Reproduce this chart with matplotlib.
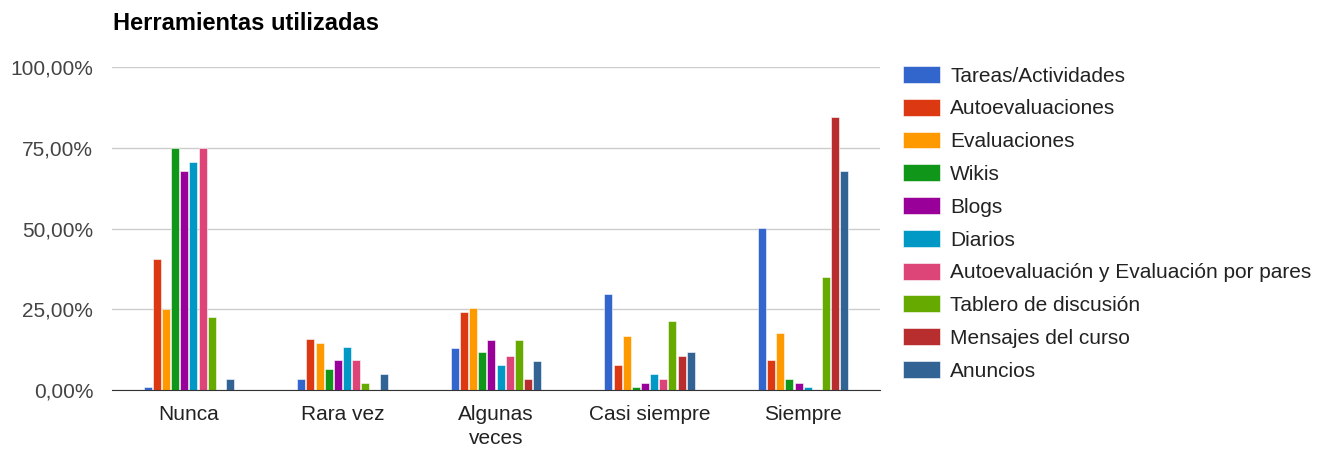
import numpy as np
import matplotlib
matplotlib.use('Agg')
import matplotlib.pyplot as plt
from matplotlib.ticker import FuncFormatter

plt.rcParams["font.family"] = ["Liberation Sans", "DejaVu Sans"]

# ---- data -------------------------------------------------------
categories = ["Nunca", "Rara vez", "Algunas\nveces", "Casi siempre", "Siempre"]

series_names = [
    "Tareas/Actividades",
    "Autoevaluaciones",
    "Evaluaciones",
    "Wikis",
    "Blogs",
    "Diarios",
    "Autoevaluación y Evaluación por pares",
    "Tablero de discusión",
    "Mensajes del curso",
    "Anuncios",
]

tareas = [1.0, 3.5, 13.0, 29.7, 50.3]
autoevaluaciones = [40.6, 15.8, 24.0, 7.8, 9.2]
evaluaciones = [25.2, 14.6, 25.3, 16.6, 17.5]
wikis = [75.0, 6.5, 11.8, 1.0, 3.4]
blogs = [67.8, 9.3, 15.6, 2.1, 2.2]
diarios = [70.5, 13.2, 7.8, 4.8, 0.9]
pares = [75.0, 9.3, 10.4, 3.5, 0.0]
tablero = [22.6, 2.2, 15.6, 21.4, 35.0]
mensajes = [0.0, 0.0, 3.4, 10.5, 84.6]
anuncios = [3.4, 5.0, 9.1, 11.8, 67.8]

series_values = [tareas, autoevaluaciones, evaluaciones, wikis, blogs,
                 diarios, pares, tablero, mensajes, anuncios]

colors = ["#3366cc", "#dc3912", "#ff9900", "#109618", "#990099",
          "#0099c6", "#dd4477", "#66aa00", "#b82e2e", "#316395"]

# ---- figure -----------------------------------------------------
fig = plt.figure(figsize=(13.37, 4.5), dpi=100)
ax = fig.add_axes([112 / 1337, 1 - 390 / 450, 768 / 1337, 323 / 450])

x = np.arange(len(categories))
n = len(series_names)
pitch = 0.0595
width = 0.052
for i, (name, vals) in enumerate(zip(series_names, series_values)):
    offset = (i - (n - 1) / 2) * pitch
    ax.bar(x + offset, vals, width=width, color=colors[i], label=name,
           edgecolor="white", linewidth=0.4, zorder=3)

ax.set_xlim(-0.5, len(categories) - 0.5)
ax.set_ylim(0, 100)
ax.set_yticks([0, 25, 50, 75, 100])
ax.yaxis.set_major_formatter(FuncFormatter(lambda v, p: f"{v:.2f}%".replace(".", ",")))
ax.grid(axis="y", color="#cccccc", linewidth=1, zorder=0)
ax.set_xticks(x)
ax.set_xticklabels(categories, fontsize=15, color="#222222", linespacing=1.3)
ax.tick_params(axis="y", length=0, pad=13.5, labelsize=15, labelcolor="#444444")
ax.tick_params(axis="x", length=0, pad=11)
for s in ["top", "right", "left"]:
    ax.spines[s].set_visible(False)
ax.spines["bottom"].set_color("#333333")
ax.spines["bottom"].set_zorder(4)

fig.text(113 / 1337, 1 - 23 / 450, "Herramientas utilizadas", fontsize=17,
         fontweight="bold", va="center", ha="left", color="#000000")

ax.legend(loc="upper left", bbox_to_anchor=(903 / 1337, 1 - 66 / 450),
          bbox_transform=fig.transFigure, frameon=False, fontsize=15,
          handlelength=1.78, handleheight=0.87, handletextpad=0.48,
          labelspacing=0.63, borderpad=0, borderaxespad=0,
          labelcolor="#222222")

fig.savefig("out.png", dpi=100)
